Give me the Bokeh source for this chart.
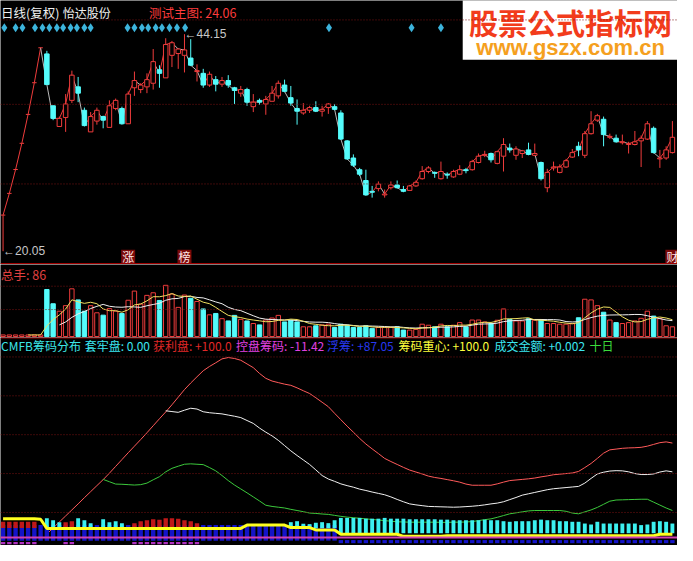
import math
from bokeh.plotting import figure
from bokeh.layouts import column
from bokeh.models import Range1d, Span
from bokeh.core.properties import value
from bokeh.embed import file_html
from bokeh.resources import INLINE

NAN = float("nan")

# ---------------- data ----------------
opens = [24.06, 26.47, 29.12, 32.03, 35.24, 38.76, 42.64, 41.96, 36.2, 33.9,
         34.9, 36.8, 38.3, 35.7, 33.3, 34.5, 35.0, 33.8, 35.9, 35.9,
         34.2, 38.2, 38.0, 38.3, 38.7, 40.2, 39.3, 41.8, 42.0, 41.8,
         41.5, 40.0, 39.8, 38.5, 39.1, 38.6, 39.0, 38.2, 37.6, 38.0,
         36.1, 36.8, 36.4, 36.7, 37.3, 38.5, 37.1, 35.9, 35.4, 35.7,
         36.0, 35.6, 36.0, 36.1, 35.4, 32.3, 30.4, 29.1, 27.9, 26.7,
         27.0, 26.3, 27.1, 27.4, 26.9, 26.8, 27.3, 28.1, 28.9, 28.8,
         28.1, 28.6, 28.3, 28.6, 29.1, 29.1, 29.9, 30.7, 30.9, 29.8,
         30.6, 31.5, 30.7, 30.9, 31.3, 30.7, 29.9, 27.1, 29.3, 28.8,
         29.4, 30.5, 31.7, 30.7, 33.1, 34.6, 34.7, 32.7, 32.6, 32.1,
         31.9, 31.9, 32.3, 32.5, 33.7, 30.3, 30.4, 31.0]
highs = [24.06, 26.47, 29.12, 32.03, 35.24, 38.76, 42.64, 42.3, 36.2, 35.0,
         37.5, 40.1, 39.4, 36.0, 35.5, 36.0, 35.1, 36.8, 37.0, 36.1,
         37.8, 40.0, 38.7, 39.8, 42.5, 40.7, 43.7, 43.4, 42.6, 44.15,
         43.6, 40.8, 40.3, 40.0, 39.5, 39.4, 39.6, 38.3, 38.4, 38.2,
         37.5, 37.0, 37.3, 38.4, 39.0, 39.1, 38.4, 36.9, 36.5, 36.2,
         36.7, 36.2, 36.5, 36.4, 35.7, 32.4, 30.8, 29.3, 29.1, 27.3,
         27.8, 26.9, 27.8, 27.9, 27.3, 27.4, 27.9, 29.5, 29.5, 28.9,
         30.0, 28.8, 29.1, 29.6, 29.3, 30.2, 30.9, 31.2, 31.0, 31.2,
         32.6, 32.0, 31.7, 31.3, 32.1, 32.0, 30.0, 29.2, 30.0, 29.7,
         30.3, 31.4, 32.2, 33.4, 35.6, 35.3, 35.0, 33.1, 33.0, 33.0,
         32.2, 33.4, 32.9, 34.5, 33.9, 31.3, 31.7, 34.5]
lows = [20.05, 26.47, 29.12, 32.03, 35.24, 38.76, 42.64, 38.55, 34.6, 33.9,
        33.3, 36.5, 36.6, 33.9, 33.3, 34.1, 33.7, 33.8, 35.7, 34.1,
        34.2, 37.3, 37.6, 37.6, 38.0, 38.2, 39.3, 40.5, 40.3, 39.9,
        40.6, 38.9, 38.2, 38.3, 37.8, 38.3, 38.2, 36.4, 37.2, 36.2,
        35.5, 36.3, 35.2, 36.7, 37.0, 37.7, 36.2, 34.1, 35.2, 35.4,
        35.5, 35.0, 35.3, 35.7, 32.4, 30.2, 29.4, 28.4, 26.2, 26.0,
        26.7, 26.0, 26.9, 27.0, 26.6, 26.8, 27.2, 28.0, 28.7, 28.2,
        28.0, 28.1, 28.2, 28.5, 28.7, 29.0, 29.8, 30.5, 29.9, 29.7,
        28.9, 31.0, 30.2, 30.4, 30.7, 30.6, 27.9, 26.6, 29.0, 28.7,
        29.3, 30.4, 30.6, 30.4, 33.0, 34.4, 31.7, 32.5, 32.1, 31.9,
        30.9, 31.8, 29.4, 32.4, 30.9, 29.3, 30.2, 30.9]
closes = [24.06, 26.47, 29.12, 32.03, 35.24, 38.76, 42.64, 38.55, 34.8, 34.8,
          36.4, 39.6, 37.6, 34.0, 35.0, 35.7, 34.6, 36.2, 36.8, 34.2,
          37.5, 39.0, 38.5, 39.1, 41.1, 39.8, 43.0, 43.2, 42.5, 42.4,
          40.7, 40.1, 38.5, 39.7, 38.6, 39.0, 38.5, 37.9, 38.0, 36.6,
          36.6, 36.6, 36.9, 37.6, 38.7, 37.8, 36.5, 35.6, 35.7, 36.0,
          35.6, 35.8, 36.4, 35.8, 32.5, 30.3, 29.6, 28.6, 26.3, 26.6,
          27.5, 26.4, 27.4, 27.1, 26.7, 27.3, 27.7, 28.9, 29.3, 28.7,
          28.9, 28.5, 28.9, 29.1, 29.0, 30.0, 30.6, 30.8, 30.2, 31.1,
          31.9, 31.3, 31.4, 31.2, 30.8, 30.9, 28.1, 28.8, 29.4, 29.4,
          30.1, 31.0, 31.3, 33.1, 34.2, 35.1, 33.0, 32.8, 32.2, 32.2,
          32.0, 32.2, 32.6, 34.2, 31.0, 30.4, 31.3, 32.7]
volumes = [14, 14, 14, 14, 14, 14, 14, 416, 290, 224,
           273, 422, 324, 224, 273, 210, 189, 247, 224, 204,
           321, 402, 287, 364, 387, 319, 453, 376, 258, 367,
           339, 310, 244, 192, 204, 158, 138, 187, 152, 138,
           115, 103, 146, 164, 187, 129, 144, 129, 86, 86,
           95, 103, 109, 80, 109, 100, 80, 80, 95, 72,
           80, 80, 80, 86, 57, 57, 63, 109, 100, 86,
           109, 86, 100, 123, 86, 146, 146, 129, 115, 144,
           244, 152, 138, 138, 158, 144, 146, 115, 115, 109,
           109, 115, 166, 330, 324, 273, 215, 146, 123, 115,
           123, 138, 161, 224, 181, 158, 95, 86]

# signal diamonds (bar positions)
diamond_pos = [0.2, 2.0, 3.1, 5.1, 6.3, 7.4, 8.6, 9.6, 10.8, 11.8, 13.0, 14.0,
               19.9, 21.0, 22.2, 23.2, 24.4, 25.4, 26.6, 27.8, 29.1,
               52.1, 65.3, 70.0]
badge_idx = [20, 29, 107]
badge_txt = ["涨", "榜", "财"]

# CMFB indicator curves
cm_red = [NAN] * 7 + [
    2.9, 6.0, 9.1, 12.2, 15.3, 18.4, 21.6, 24.7, 27.8, 30.9,
    34.2, 37.7, 41.2, 44.7, 48.1, 51.5, 55.0, 58.6, 62.2, 65.7,
    69.4, 73.3, 77.2, 80.6, 83.8, 86.9, 89.1, 91.0, 93.0, 93.7,
    93.2, 92.3, 90.4, 88.5, 85.5, 83.0, 81.6, 80.8, 80.0, 79.4,
    78.1, 76.6, 75.2, 73.0, 70.7, 68.4, 65.0, 61.7, 58.4, 55.3,
    52.1, 49.2, 46.7, 44.3, 41.8, 40.2, 38.7, 37.2, 35.8, 34.8,
    33.8, 32.7, 32.0, 31.5, 30.9, 30.3, 29.6, 28.6, 28.0, 28.0,
    28.0, 28.0, 28.7, 29.6, 30.4, 30.7, 31.0, 31.3, 31.7, 32.3,
    32.8, 33.4, 33.7, 34.0, 34.3, 35.1, 37.1, 39.2, 41.8, 44.5,
    46.2, 46.6, 47.0, 47.2, 47.3, 47.5, 48.1, 49.0, 49.9, 50.3,
    49.7]
cm_white = [NAN] * 26 + [
    66.3, 65.9, 65.5, 66.6, 67.6, 67.2, 65.8, 65.3, 65.0, 64.7,
    64.1, 63.5, 62.8, 61.3, 59.8, 57.4, 55.3, 53.4, 51.1, 48.4,
    45.7, 43.3, 41.0, 38.7, 35.9, 33.0, 31.2, 30.0, 28.7, 27.8,
    27.0, 26.0, 25.3, 24.5, 23.8, 23.1, 22.0, 20.7, 19.5, 18.4,
    17.9, 17.5, 17.1, 17.0, 16.9, 16.8, 16.7, 16.8, 17.0, 17.2,
    17.5, 17.9, 18.4, 18.8, 19.5, 20.6, 21.7, 22.9, 23.6, 24.3,
    25.0, 25.7, 26.2, 26.5, 26.8, 27.1, 27.4, 29.1, 31.5, 33.8,
    34.7, 35.3, 35.5, 35.4, 34.9, 34.0, 33.5, 33.5, 33.8, 34.8,
    35.4, 34.9]
cm_green = [NAN] * 16 + [
    31.0, 29.8, 28.6, 28.5, 28.3, 28.1, 28.3, 29.1, 30.8, 32.4,
    34.9, 36.7, 37.8, 38.8, 39.0, 38.8, 38.6, 37.1, 35.4, 33.0,
    30.4, 28.1, 26.1, 24.1, 22.0, 19.9, 17.7, 17.1, 16.7, 16.3,
    15.6, 15.0, 14.4, 13.7, 13.5, 13.2, 13.0, 12.5, 12.0, 11.6,
    11.3, 11.0, 10.7, 10.4, 10.1, 9.8, 9.5, 9.2, 9.1, 9.0,
    9.0, 9.0, 9.0, 9.0, 8.9, 8.9, 9.0, 9.0, 9.1, 9.3,
    9.8, 10.3, 10.7, 11.5, 12.4, 13.3, 13.8, 14.3, 14.8, 15.0,
    15.0, 15.0, 15.0, 15.0, 14.6, 13.7, 13.3, 14.3, 15.3, 16.6,
    18.2, 19.8, 20.4, 20.5, 20.6, 20.7, 20.8, 20.8, 19.3, 17.8,
    16.3, 15.0]
cm_yellow = ([10.8] * 6 + [10.5] + [5.8] * 32 + [7.5] * 7 + [6.2] * 4 + [5.0] * 4
             + [2.8] * 10 + [1.7] * 7 + [2.0] * 34 + [2.8] * 3)
cm_cyan_top = ([NAN] * 7 + [11.0, 10.0, 9.0, NAN, NAN, 11.0, 10.0, 8.5, NAN, 10.5, 9.0, 9.5, 8.5]
               + [NAN] * 26 + [9.0, 9.5, 8.2, 8.0, 8.7, 9.0, 8.5, 10.0] +
               [11.2, 11.2, 11.2, 11.2, 10.8, 10.8, 10.8, 11.2, 10.8, 10.8,
                10.8, 10.5, 10.5, 10.5, 10.5, 10.5, 10.3, 10.3, 10.0, 10.0,
                10.0, 10.0, 10.0, 10.3, 10.0, 10.0, 9.5, 9.2, 9.5, 9.5,
                9.5, 10.0, 10.3, 10.0, 10.0, 9.5, 9.5, 9.2, 9.2, 8.3,
                7.8, 9.2, 8.3, 8.3, 8.3, 8.3, 8.3, 8.3, 7.5, 7.8,
                9.2, 9.5, 9.2, 8.3])
cm_cyan_base = [6.0] * 54 + [3.3] * 54
cm_red_top = ([9.2] * 6 + [NAN] * 4 + [9.0, 9.5] + [NAN] * 9 +
              [8.5, 9.5, 10.0, 10.5, 10.3, 11.0, 11.0, 10.8, 10.0, 9.5, 8.5] + [NAN] * 76)
cm_blue_top = [7.5] * 54 + [-0.2] * 54
cm_blue_base = [-0.5] * 54 + [-1.8] * 54

# ---------------- layout helpers (reference pixel -> data) ----------------
XS, X0 = 6.32, 2.6
def X(px): return (px - X0) / XS
def YM(py): return 20.05 + (258.3 - py) / 9.278
def YV(py): return (346.0 - py) * 8.61
def YC(py): return (555.0 - py) / 2.0

W = 677
xr = Range1d(X(0), X(684))

def mkfig(h, y0, y1):
    p = figure(width=W, height=h, x_range=xr, y_range=Range1d(y0, y1),
               output_backend="svg", toolbar_location=None,
               x_axis_location=None, y_axis_location=None,
               background_fill_color="black", border_fill_color="black",
               min_border=0, outline_line_color=None)
    p.grid.visible = False
    return p

def txt(p, x, y, s, color, size="13px", font="Noto Sans CJK SC", align="left",
        style="normal", baseline="middle"):
    p.text(x=[x], y=[y], text=[s], text_color=color, text_font=value(font),
           text_font_size=size, text_align=align, text_baseline=baseline,
           text_font_style=style)

def hline(p, y, color="#7a1212", dash="1 2", width=1):
    p.add_layout(Span(location=y, dimension="width", line_color=color,
                      line_dash=dash, line_width=width))

RED, CYAN = "#f03c3c", "#54fcfc"
n = len(closes)
idx = list(range(n))
up = [c >= o for o, c in zip(opens, closes)]

# ---------------- main price panel ----------------
pm = mkfig(264, YM(272), YM(0))
for py in (20, 107, 189):
    hline(pm, YM(py))
hline(pm, YM(271.3), color="#a00000", dash="solid", width=1.5)

# close line
pm.segment(x0=idx[:-1], y0=closes[:-1], x1=idx[1:], y1=closes[1:],
           line_color=[RED if closes[i + 1] >= closes[i] else "#b8b8b8" for i in range(n - 1)],
           line_width=1)

BW = 0.72
wx0, wy0, wy1, wc = [], [], [], []
for i in idx:
    o, h, l, c = opens[i], highs[i], lows[i], closes[i]
    if up[i]:
        top, bot = max(o, c), min(o, c)
        if h > top:
            wx0.append(i); wy0.append(top); wy1.append(h); wc.append(RED)
        if l < bot:
            wx0.append(i); wy0.append(l); wy1.append(bot); wc.append(RED)
    else:
        wx0.append(i); wy0.append(l); wy1.append(h); wc.append(CYAN)
pm.segment(x0=wx0, y0=wy0, x1=wx0, y1=wy1, line_color=wc, line_width=1)

ru = [i for i in idx if up[i] and abs(closes[i] - opens[i]) >= 0.05]
cd = [i for i in idx if not up[i] and abs(closes[i] - opens[i]) >= 0.05]
dj = [i for i in idx if abs(closes[i] - opens[i]) < 0.05]
pm.vbar(x=ru, width=BW, top=[closes[i] for i in ru], bottom=[opens[i] for i in ru],
        fill_color="black", line_color=RED, line_width=1)
pm.vbar(x=cd, width=BW, top=[opens[i] for i in cd], bottom=[closes[i] for i in cd],
        fill_color=CYAN, line_color=CYAN, line_width=1)
pm.segment(x0=[i - BW / 2 for i in dj], x1=[i + BW / 2 for i in dj],
           y0=[closes[i] for i in dj], y1=[closes[i] for i in dj],
           line_color=[RED if up[i] else CYAN for i in dj], line_width=1)

pm.scatter(x=diamond_pos, y=[YM(28)] * len(diamond_pos), marker="diamond", size=9,
           fill_color="#3cb4dc", line_color=None)

hi = max(highs); hi_i = highs.index(hi)
lo = min(lows); lo_i = lows.index(lo)
txt(pm, hi_i, hi, "\u2190" + f"{hi:.2f}", "#c8c8c8", size="12px", font="Liberation Sans")
txt(pm, lo_i, lo, "\u2190" + f"{lo:.2f}", "#c8c8c8", size="12px", font="Liberation Sans")

pm.rect(x=badge_idx, y=[YM(264)] * 3, width=14, height=14, width_units="screen",
        height_units="screen", fill_color="#7a0a0a", line_color=None)
pm.text(x=badge_idx, y=[YM(264)] * 3, text=badge_txt, text_align="center",
        text_baseline="middle", text_color="#ffe6e6", text_font=value("Noto Sans CJK SC"),
        text_font_size="12px")

txt(pm, X(0.5), YM(12.5), "日线(复权)", "#f0f0f0", size="12.5px")
txt(pm, X(63), YM(12.5), "怡达股份", "#f0f0f0", size="12px")
txt(pm, X(150), YM(12.5), "测试主图: 24.06", "#ff3c3c", size="12.5px")

pm.quad(left=[X(467)], right=[X(720)], bottom=[YM(61)], top=[YM(-20)],
        fill_color="white", line_color=None)
txt(pm, X(576), YM(22), "股票公式指标网", "#f23c1c", size="29px", align="center", style="bold")
txt(pm, X(576), YM(48), "www.gszx.com.cn", "#f5a01e", size="22px", font="Liberation Sans",
    align="center", style="bold", baseline="alphabetic")

# ---------------- volume panel ----------------
pv = mkfig(73, YV(347), YV(272))
for py in (294.3, 318.3):
    hline(pv, YV(py))
vr = [i for i in idx if up[i]]
vc = [i for i in idx if not up[i]]
pv.vbar(x=vr, width=0.7, top=[volumes[i] for i in vr], bottom=0,
        fill_color="black", line_color=RED, line_width=1)
pv.vbar(x=vc, width=0.7, top=[volumes[i] for i in vc], bottom=0,
        fill_color=CYAN, line_color=CYAN, line_width=1)
ma5 = [sum(volumes[i - 4:i + 1]) / 5 if i >= 4 else NAN for i in idx]
ma10 = [sum(volumes[i - 9:i + 1]) / 10 if i >= 9 else NAN for i in idx]
pv.line(idx, ma10, line_color="#f0f0f0", line_width=1)
pv.line(idx, ma5, line_color="#f0e060", line_width=1)
txt(pv, X(0.5), YV(282), f"总手: {volumes[-1]}", "#e04040", size="12.5px")

# ---------------- CMFB panel ----------------
pc = mkfig(208, YC(561), YC(347))
hline(pc, YC(347.5), color="#a00000", dash="solid", width=1)
for py in (367, 407, 447, 487, 527):
    hline(pc, YC(py))

pc.line(idx, cm_red, line_color="#ff5a5a", line_width=1)
pc.line(idx, cm_white, line_color="#f0f0f0", line_width=1)
pc.line(idx, cm_green, line_color="#3cc83c", line_width=1)

pc.vbar(x=idx, width=0.7, top=cm_blue_top, bottom=cm_blue_base,
        fill_color="#1414c8", line_color=None)
rr = [i for i in idx if not math.isnan(cm_red_top[i])]
pc.vbar(x=rr, width=0.7, top=[cm_red_top[i] for i in rr], bottom=6.0,
        fill_color="#c01818", line_color=None)
pc.vbar(x=rr, width=0.7, top=-1.2, bottom=-2.3, fill_color="#b030c0", line_color=None)
cc = [i for i in idx if not math.isnan(cm_cyan_top[i])]
pc.vbar(x=cc, width=0.62, top=[cm_cyan_top[i] for i in cc],
        bottom=[cm_cyan_base[i] for i in cc], fill_color="#3cf0f0", line_color=None)
hline(pc, 1.15, color="#d040b0", dash="solid", width=2)
pc.line(idx, cm_yellow, line_color="#ffff1e", line_width=3)

titles = [(0.5, "CMFB筹码分布", "#3ce6e6"), (85, "套牢盘: 0.00", "#3ce6f0"),
          (154, "获利盘: +100.0", "#e02828"), (238, "控盘筹码: -11.42", "#e040e0"),
          (330, "浮筹: +87.05", "#2838f0"), (402, "筹码重心: +100.0", "#ffff3c"),
          (499, "成交金额: +0.002", "#3ce6f0"), (595, "十日", "#3cdc3c")]
for px, s, col in titles:
    txt(pc, X(px), YC(355.5), s, col, size="12px")

layout = column(pm, pv, pc, spacing=0)
open("out.html", "w").write(file_html(layout, INLINE))
